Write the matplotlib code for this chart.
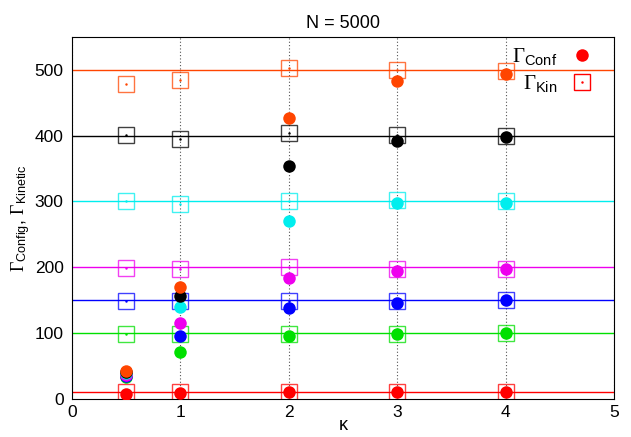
import numpy as np
import matplotlib.pyplot as plt

plt.rcParams['mathtext.fontset'] = 'custom'
plt.rcParams['mathtext.rm'] = 'Liberation Serif'
plt.rcParams['mathtext.it'] = 'Liberation Serif:italic'
plt.rcParams['mathtext.sf'] = 'Liberation Sans'
plt.rcParams['font.family'] = ['Liberation Sans', 'DejaVu Sans']

## data
kappa = [0.5, 1, 2, 3, 4]
levels = [10, 100, 150, 200, 300, 400, 500]
colors = ['#ff0000', '#00e000', '#0000ff', '#ee00ee', '#00eeee', '#000000', '#ff4500']

# configurational temperature (filled circles), one row per level
gamma_conf = [
    [8, 9, 10, 10, 10],
    [33, 72, 95, 99, 100],
    [35, 95, 138, 146, 150],
    [37, 115, 184, 195, 198],
    [39, 140, 270, 297, 298],
    [41, 157, 353, 392, 397],
    [43, 170, 426, 482, 493],
]

# kinetic temperature (open squares)
gamma_kin = [
    [10, 10, 10, 10, 10],
    [99, 99, 99, 99, 100],
    [148, 148, 149, 149, 150],
    [199, 197, 201, 198, 198],
    [301, 296, 301, 302, 300],
    [401, 394, 404, 401, 400],
    [478, 484, 503, 499, 498],
]

fig = plt.figure(figsize=(6.31, 4.37), dpi=100)
ax = fig.add_axes([0.114, 0.087, 0.859, 0.829])

for i in range(len(levels)):
    c = colors[i]
    ax.axhline(levels[i], color=c, lw=1.0, zorder=1)
    ax.plot(kappa, gamma_kin[i], ls='none', marker='s', ms=12, mfc='none',
            mec=c, mew=1.0, alpha=0.75, zorder=2)
    ax.plot(kappa, gamma_kin[i], ls='none', marker='.', ms=1.5, color=c, zorder=2)
    ax.plot(kappa, gamma_conf[i], ls='none', marker='o', ms=9, color=c,
            mec='none', zorder=3)

# key drawn gnuplot style: right-justified text, symbol on the right
key_labels = [r'$\Gamma_{\mathsf{Conf}}$', r'$\Gamma_{\mathsf{Kin}}$']
key_y = [0.945, 0.870]
ax.text(0.896, key_y[0], key_labels[0], transform=ax.transAxes, ha='right',
        va='center', fontsize=15)
ax.text(0.896, key_y[1], key_labels[1], transform=ax.transAxes, ha='right',
        va='center', fontsize=15)
ax.plot([0.941], [key_y[0] + 0.005], transform=ax.transAxes, ls='none', marker='o',
        ms=9, color='red', mec='none', clip_on=False)
ax.plot([0.941], [key_y[1] + 0.005], transform=ax.transAxes, ls='none', marker='s',
        ms=11, mfc='none', mec='red', mew=1.0, clip_on=False)
ax.plot([0.941], [key_y[1] + 0.005], transform=ax.transAxes, ls='none', marker='.',
        ms=1.5, color='red', clip_on=False)

ax.set_xlim(0, 5)
ax.set_ylim(0, 550)
ax.set_xticks([0, 1, 2, 3, 4, 5])
ax.set_yticks([0, 100, 200, 300, 400, 500])
ax.tick_params(labelsize=12.5, length=0, pad=6)
ax.tick_params(axis='x', pad=4)
ax.grid(axis='x', color='#555555', ls=(0, (1, 2)), lw=0.8)
ax.set_axisbelow(True)

ax.set_title('N = 5000', fontsize=13, pad=6)
ax.set_xlabel('κ', fontsize=13, labelpad=-2)
ax.set_ylabel(r'$\Gamma_{\mathsf{Config}}$, $\Gamma_{\mathsf{Kinetic}}$', fontsize=13, labelpad=2)

fig.savefig('out.png', dpi=100)
